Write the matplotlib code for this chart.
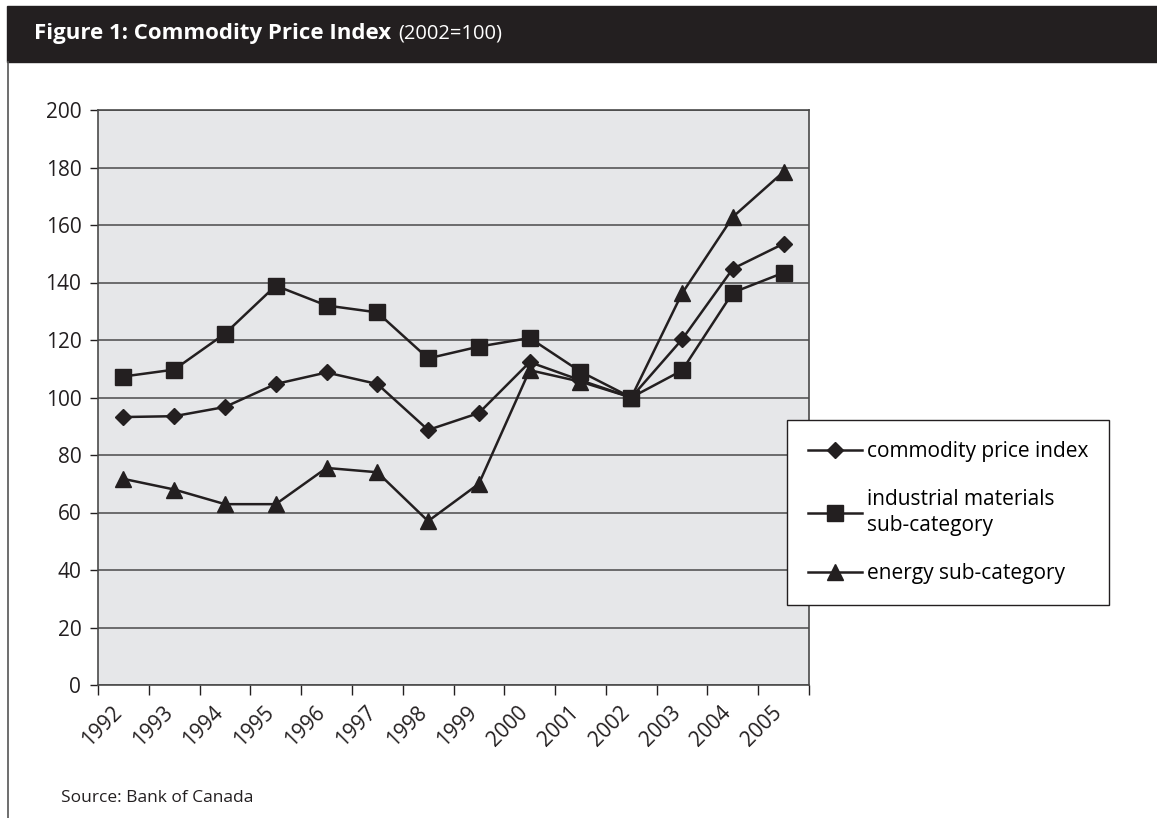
import matplotlib.pyplot as plt
import matplotlib.transforms as mtransforms
from matplotlib.patches import Rectangle
from matplotlib.lines import Line2D

plt.rcParams['font.family'] = ['Open Sans', 'DejaVu Sans']

years = ['1992', '1993', '1994', '1995', '1996', '1997', '1998',
         '1999', '2000', '2001', '2002', '2003', '2004', '2005']
commodity = [93.2, 93.5, 96.7, 104.7, 108.7, 104.7, 88.7,
             94.6, 112.3, 106.0, 100.0, 120.2, 144.8, 153.5]
industrial = [107.3, 109.7, 122.2, 138.9, 132.0, 129.6, 113.6,
              117.7, 120.7, 109.0, 100.0, 109.4, 136.5, 143.4]
energy = [71.7, 68.0, 62.9, 62.9, 75.5, 74.0, 57.0,
          70.0, 109.5, 105.5, 100.0, 136.2, 162.8, 178.5]
labels = ['commodity price index', 'industrial materials\nsub-category',
          'energy sub-category']

fig = plt.figure(figsize=(11.57, 8.18), dpi=100)
W, H = 1157, 818

# header band and left rule
fig.patches.append(Rectangle((7 / W, 1 - 62 / H), 1 - 7 / W, 56 / H,
                             transform=fig.transFigure, color='#231f20', zorder=0))
fig.lines.append(Line2D([7.5 / W, 7.5 / W], [0, 1 - 62 / H], transform=fig.transFigure,
                        color='#555555', lw=1.2))
t1 = fig.text(34 / W, 1 - 34 / H, 'Figure 1: Commodity Price Index', color='white',
              fontsize=16, fontweight='bold', va='center', ha='left')
fig.canvas.draw()
bb = t1.get_window_extent()
fig.text((bb.x1 + 7) / W, 1 - 34 / H, '(2002=100)', color='white',
         fontsize=14.5, va='center', ha='left')
fig.text(61 / W, 1 - 798 / H, 'Source: Bank of Canada', fontsize=12.5,
         color='#231f20', va='center', ha='left')

ax = fig.add_axes([98 / W, 1 - 685 / H, 711 / W, 575 / H])
ax.set_facecolor('#e6e7e9')
x = list(range(len(years)))
ax.plot(x, commodity, color='#231f20', lw=1.8, marker='D', ms=8, label=labels[0])
ax.plot(x, industrial, color='#231f20', lw=1.8, marker='s', ms=11, label=labels[1])
ax.plot(x, energy, color='#231f20', lw=1.8, marker='^', ms=11, label=labels[2])

ax.set_xlim(-0.5, len(years) - 0.5)
ax.set_ylim(0, 200)
ax.set_yticks(range(0, 201, 20))
ax.yaxis.grid(True, color='#4a4a4a', lw=1.1)
ax.set_axisbelow(True)
ax.tick_params(axis='y', labelsize=15, length=6, width=1, colors='#231f20', pad=6)

ax.set_xticks([i - 0.5 for i in range(len(years) + 1)])
ax.set_xticklabels([])
ax.tick_params(axis='x', which='major', length=7, width=1, colors='#231f20')
ax.set_xticks(x, minor=True)
ax.set_xticklabels(years, minor=True, rotation=45, ha='right',
                   rotation_mode='anchor', fontsize=15, color='#231f20')
ax.tick_params(axis='x', which='minor', length=0, pad=12)
offset = mtransforms.ScaledTranslation(-0.12, 0, fig.dpi_scale_trans)
for lab in ax.xaxis.get_minorticklabels():
    lab.set_transform(lab.get_transform() + offset)

for s in ax.spines.values():
    s.set_color('#4a4a4a')
    s.set_linewidth(1.2)

leg = ax.legend(loc='upper left', bbox_to_anchor=(787 / W, 1 - 420 / H),
                bbox_transform=fig.transFigure, fontsize=15, frameon=True,
                fancybox=False, edgecolor='#231f20', framealpha=1,
                handlelength=2.6, handletextpad=0.25, labelspacing=1.3,
                borderpad=1.0, borderaxespad=0)
leg.get_frame().set_linewidth(1.0)
for t in leg.get_texts():
    t.set_linespacing(1.3)

fig.savefig('out.png', dpi=100, facecolor='white')
